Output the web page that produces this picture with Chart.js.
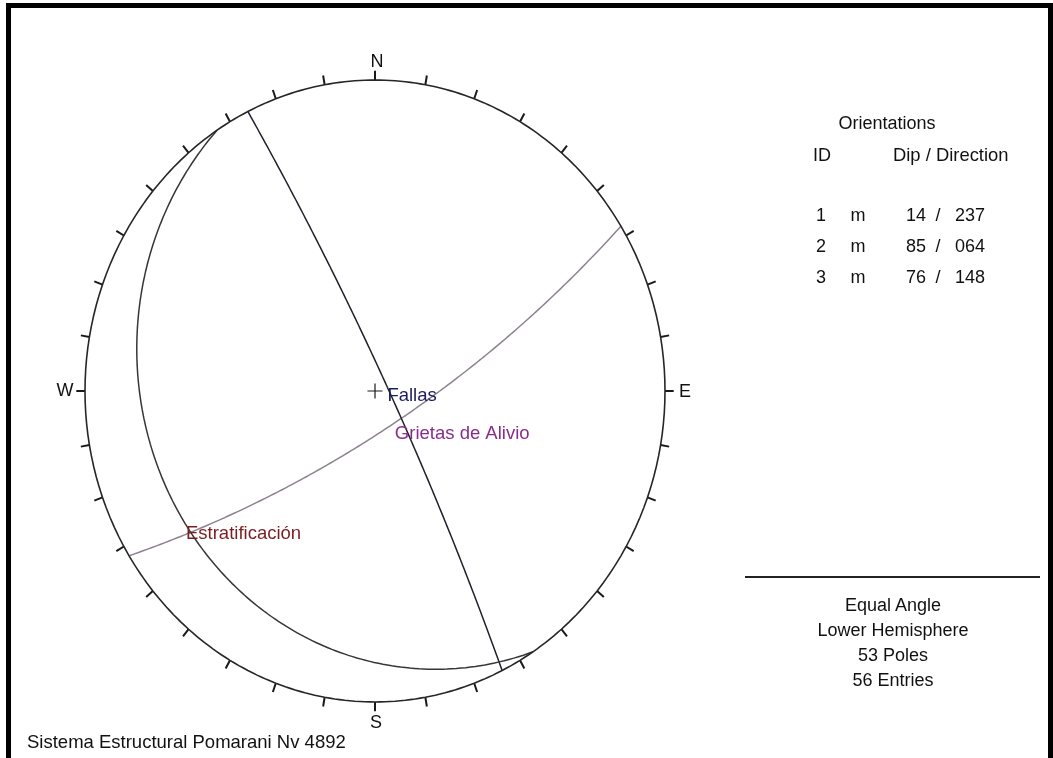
<!DOCTYPE html>
<html>
<head>
<meta charset="utf-8">
<script src="https://cdn.jsdelivr.net/npm/chart.js@4.4.0/dist/chart.umd.min.js"></script>
<style>
html, body { margin: 0; padding: 0; background: #fff; }
#wrap { position: relative; width: 1053px; height: 758px; overflow: hidden;
        font-family: "Liberation Sans", Arial, sans-serif; color: #111; }
#frame { position: absolute; left: 6px; top: 3px; width: 1037px; height: 780px; border: 5px solid #000; }
#net { position: absolute; left: 0; top: 0; }
.t { position: absolute; font-size: 18px; line-height: 20px; white-space: nowrap; }
.c { transform: translateX(-50%); }
.r { transform: translateX(-100%); }
#rule { position: absolute; left: 745px; top: 576px; width: 295px; height: 2px; background: #222; }
</style>
</head>
<body>
<div id="wrap">
  <div id="frame"></div>
  <canvas id="net" width="1053" height="758"></canvas>
  <div id="panel"></div>
  <div id="rule"></div>
</div>
<script>
// Plane orientations (Dip / Direction) as listed in the table
const planeIds = [1, 2, 3];
const planeDips = [14, 85, 76];
const planeDirs = [237, 64, 148];
const planeNames = ['Estratificación', 'Fallas', 'Grietas de Alivio'];
const lineColors = ['#363636', '#20202e', '#8e8290'];
const labelColors = ['#7b1e22', '#1b1d5e', '#8a2c8c'];

const cardinals = ['N', 'E', 'S', 'W'];
const infoLines = ['Equal Angle', 'Lower Hemisphere', '53 Poles', '56 Entries'];
const caption = 'Sistema Estructural Pomarani Nv 4892';

const rad = d => d * Math.PI / 180;

// equal angle, lower hemisphere: unit vector (east, north, down) -> plot coords
function project(e, n, d) {
    return { x: e / (1 + d), y: n / (1 + d) };
}

function dipVector(dip, dir) {
    return [Math.cos(rad(dip)) * Math.sin(rad(dir)), Math.cos(rad(dip)) * Math.cos(rad(dir)), Math.sin(rad(dip))];
}

// great circle of a plane: all lines lying in it, from strike to strike
function greatCircle(dip, dir) {
    const s = [Math.sin(rad(dir - 90)), Math.cos(rad(dir - 90)), 0];
    const v = dipVector(dip, dir);
    const pts = [];
    for (let t = 0; t <= 180; t += 2) {
        const c = Math.cos(rad(t)), sn = Math.sin(rad(t));
        pts.push(project(c * s[0] + sn * v[0], c * s[1] + sn * v[1], sn * v[2]));
    }
    return pts;
}

// primitive circle and 10 degree ticks
const primitive = [];
for (let a = 0; a <= 360; a += 2) primitive.push({ x: Math.sin(rad(a)), y: Math.cos(rad(a)) });
const ticks = [];
for (let a = 0; a < 360; a += 10) {
    ticks.push({ x: Math.sin(rad(a)), y: Math.cos(rad(a)) });
    ticks.push({ x: 1.03 * Math.sin(rad(a)), y: 1.03 * Math.cos(rad(a)) });
    ticks.push({ x: 0, y: null });
}
const cross = [{ x: -0.026, y: 0 }, { x: 0.026, y: 0 }, { x: 0, y: null }, { x: 0, y: -0.024 }, { x: 0, y: 0.024 }];

// a tiny tension keeps Chart.js off its x-monotonic fast path, which breaks closed curves
const lineSet = (data, color, width, curve) => ({
    data: data, showLine: true, borderColor: color, borderWidth: width,
    pointRadius: 0, fill: false, tension: curve ? 0.001 : 0, spanGaps: false, clip: false
});

const datasets = [
    lineSet(primitive, '#262626', 1.6, true),
    lineSet(ticks, '#1a1a1a', 2),
    lineSet(cross, '#1a1a1a', 1.2)
];
planeDips.forEach((dip, i) => datasets.push(lineSet(greatCircle(dip, planeDirs[i]), lineColors[i], 1.5, true)));

// text on the net: cardinal letters and plane names at their dip points
const netText = {
    id: 'netText',
    afterDatasetsDraw(chart) {
        const { ctx, chartArea: a, scales: { x, y } } = chart;
        ctx.save();
        ctx.font = '18px "Liberation Sans", Arial, sans-serif';
        ctx.fillStyle = '#111';
        ctx.textAlign = 'center';
        ctx.textBaseline = 'middle';
        const cx = x.getPixelForValue(0), cy = y.getPixelForValue(0);
        ctx.fillText(cardinals[0], cx + 2, a.top - 18);
        ctx.fillText(cardinals[1], a.right + 20, cy + 1);
        ctx.fillText(cardinals[2], cx + 1, a.bottom + 21);
        ctx.fillText(cardinals[3], a.left - 20, cy);

        ctx.font = '18.5px "Liberation Sans", Arial, sans-serif';
        ctx.textAlign = 'left';
        planeDips.forEach((dip, i) => {
            const v = dipVector(dip, planeDirs[i]);
            const p = project(v[0], v[1], v[2]);
            ctx.fillStyle = labelColors[i];
            ctx.fillText(planeNames[i], x.getPixelForValue(p.x) + 1, y.getPixelForValue(p.y) + 11);
        });
        ctx.restore();
    }
};

new Chart(document.getElementById('net'), {
    type: 'scatter',
    data: { datasets: datasets },
    options: {
        responsive: false,
        animation: false,
        devicePixelRatio: 1,
        layout: { padding: { left: 85, right: 388, top: 80, bottom: 56 } },
        elements: { line: { capBezierPoints: false } },
        scales: {
            x: { type: 'linear', min: -1, max: 1, display: false },
            y: { type: 'linear', min: -1, max: 1, display: false }
        },
        plugins: { legend: { display: false }, tooltip: { enabled: false } }
    },
    plugins: [netText]
});

// side panel
const panel = document.getElementById('panel');
function addText(txt, left, cy, cls, size) {
    const d = document.createElement('div');
    d.className = 't' + (cls ? ' ' + cls : '');
    d.textContent = txt;
    d.style.left = left + 'px';
    d.style.top = (cy - 10) + 'px';
    if (size) d.style.fontSize = size + 'px';
    panel.appendChild(d);
}
addText('Orientations', 887, 123, 'c');
addText('ID', 813, 155);
addText('Dip / Direction', 893, 155, '', 18.4);
const rowY = [215, 246, 277];
planeIds.forEach((id, i) => {
    addText(String(id), 821, rowY[i], 'c');
    addText('m', 858, rowY[i], 'c');
    addText(String(planeDips[i]), 926, rowY[i], 'r');
    addText('/', 938, rowY[i], 'c');
    addText(String(planeDirs[i]).padStart(3, '0'), 955, rowY[i]);
});
infoLines.forEach((line, i) => addText(line, 893, 605 + i * 25, 'c'));
addText(caption, 27, 742, '', 18.5);
</script>
</body>
</html>
